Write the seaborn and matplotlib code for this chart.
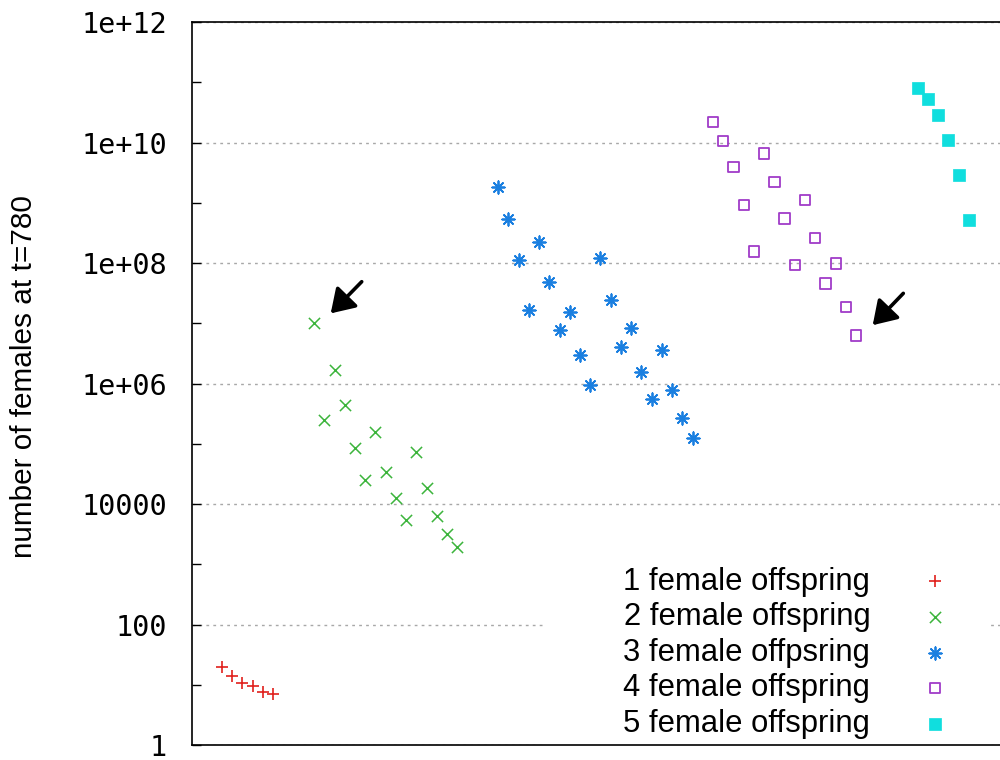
import numpy as np
import matplotlib
matplotlib.use('Agg')
import matplotlib.pyplot as plt
from matplotlib.patches import Rectangle
from matplotlib.ticker import FixedLocator, NullFormatter
import seaborn as sns

# values (x = run index, y = females at t=780)
x_one = np.arange(0, 6)
y_one = [20, 14, 10.8, 9.5, 7.7, 7.0]
x_two = np.arange(9, 24)
y_two = [1.0e7, 2.5e5, 1.66e6, 4.4e5, 8.4e4, 2.5e4, 1.55e5, 3.45e4,
         1.24e4, 5.4e3, 7.4e4, 1.82e4, 6.3e3, 3.2e3, 1.95e3]
x_three = np.arange(27, 47)
y_three = [1.85e9, 5.4e8, 1.12e8, 1.66e7, 2.25e8, 4.9e7, 7.7e6, 1.55e7,
           2.95e6, 9.5e5, 1.2e8, 2.45e7, 4.1e6, 8.3e6, 1.58e6, 5.5e5,
           3.6e6, 7.8e5, 2.64e5, 1.23e5]
x_four = np.arange(48, 63)
y_four = [2.17e10, 1.07e10, 3.9e9, 9.1e8, 1.55e8, 6.6e9, 2.24e9, 5.5e8,
          9.3e7, 1.12e9, 2.57e8, 4.6e7, 9.8e7, 1.88e7, 6.3e6]
x_five = np.arange(68, 74)
y_five = [7.9e10, 5.3e10, 2.87e10, 1.1e10, 2.9e9, 5.1e8]

labels = ['1 female offspring', '2 female offspring', '3 female offpsring',
          '4 female offspring', '5 female offspring']

# arrows pointing at the lowest-offspring outliers
arrow_tips = [(10.63, 1.46e7), (63.61, 9.3e6)]
arrow_tails = [(13.66, 4.9e7), (66.6, 3.14e7)]

major_ticks = [1e0, 1e2, 1e4, 1e6, 1e8, 1e10, 1e12]
major_labels = ['1', '100', '10000', '1e+06', '1e+08', '1e+10', '1e+12']
minor_ticks = [1e1, 1e3, 1e5, 1e7, 1e9, 1e11]

sns.set_theme(style='white')
plt.rcParams['font.family'] = ['Liberation Sans', 'DejaVu Sans']
plt.rcParams['text.color'] = 'black'

fig = plt.figure(figsize=(10, 7.6), dpi=100)
ax = fig.add_axes([0.192, 0.0197, 0.818, 0.9513])

sns.scatterplot(x=x_one, y=y_one, marker='+', color='#e0201c', s=75,
                linewidth=1.2, ax=ax, label=labels[0])
sns.scatterplot(x=x_two, y=y_two, marker='x', color='#3cb43c', s=65,
                linewidth=1.1, ax=ax, label=labels[1])
sns.scatterplot(x=x_three, y=y_three, marker=(8, 2, 0), color='#1a7fe0', s=80,
                linewidth=1.3, ax=ax, label=labels[2])
sns.scatterplot(x=x_four, y=y_four, marker='s', facecolor='none',
                edgecolor='#a03cc8', s=55, linewidth=1.3, ax=ax, label=labels[3])
sns.scatterplot(x=x_five, y=y_five, marker='s', color='#10dede',
                edgecolor='#10dede', s=85, linewidth=0.5, ax=ax, label=labels[4])

for tip, tail in zip(arrow_tips, arrow_tails):
    ax.annotate('', xy=tip, xytext=tail,
                arrowprops=dict(arrowstyle='-|>,head_length=0.7,head_width=0.45',
                                color='black', lw=2.6, mutation_scale=20,
                                shrinkA=0, shrinkB=0))

ax.set_yscale('log')
ax.set_ylim(1, 1e12)
ax.set_xlim(-2.93, 77.03)
ax.set_xticks([])
ax.yaxis.set_major_locator(FixedLocator(major_ticks))
ax.set_yticklabels(major_labels, fontfamily='DejaVu Sans Mono', fontsize=20.5,
                   color='black')
ax.yaxis.set_minor_locator(FixedLocator(minor_ticks))
ax.yaxis.set_minor_formatter(NullFormatter())
ax.tick_params(axis='y', which='both', direction='in', length=6.5, width=1,
               pad=18, left=True, colors='black')
ax.yaxis.grid(True, which='major', color='#a8a8a8', linestyle=(0, (2, 3)), lw=1)
for sp in ax.spines.values():
    sp.set_color('black')
    sp.set_linewidth(1.2)

# white box behind the key, as in the original
ax.add_patch(Rectangle((0.4315, 0.0), 0.544, 0.263, transform=ax.transAxes,
                       facecolor='white', edgecolor='none', zorder=1.8))

ax.legend(loc='lower right', bbox_to_anchor=(0.957, 0.0197),
          bbox_transform=fig.transFigure, markerfirst=False, frameon=False,
          prop={'family': 'Liberation Sans', 'size': 22.3}, handlelength=1.0,
          handletextpad=1.6, labelspacing=0.18, borderpad=0.2,
          borderaxespad=0, scatterpoints=1, labelcolor='black')

fig.text(0.024, 0.505, 'number of females at t=780', rotation=90,
         ha='center', va='center', fontsize=21.4, family='Liberation Sans',
         color='black')

fig.savefig('out.png', dpi=100)
